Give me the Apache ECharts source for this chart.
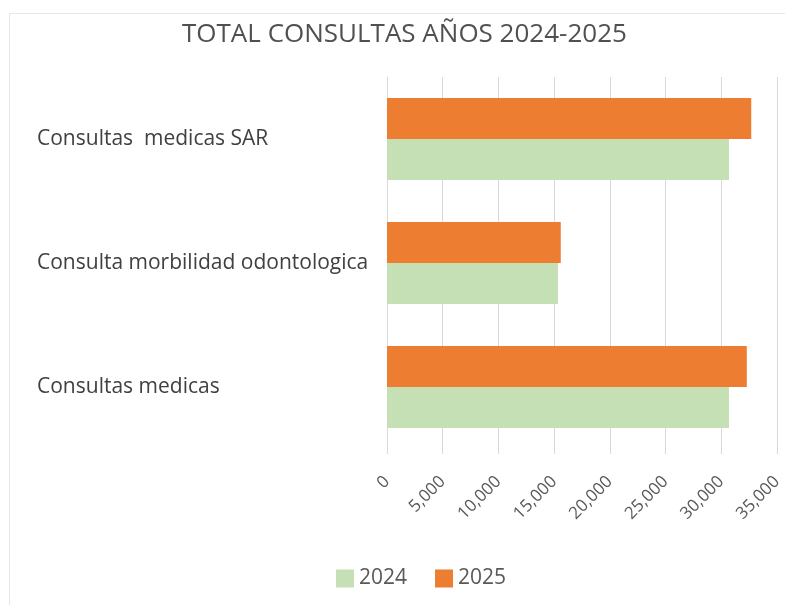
<!DOCTYPE html>
<html>
<head>
<meta charset="utf-8">
<script src="https://cdn.jsdelivr.net/npm/echarts@6/dist/echarts.min.js"></script>
<style>html,body{margin:0;padding:0;background:#fff}#c{width:785px;height:605px}</style>
</head>
<body>
<div id="c"></div>
<script>
var categories = ["Consultas medicas", "Consulta morbilidad odontologica", "Consultas  medicas SAR"];
var seriesNames = ["2024", "2025"];
var values2024 = [30700, 15350, 30700];
var values2025 = [32300, 15600, 32700];
var titleText = "TOTAL CONSULTAS AÑOS 2024-2025";

var FONT = "Open Sans";
var chart = echarts.init(document.getElementById('c'));
chart.setOption({
  backgroundColor: '#fff',
  animation: false,
  graphic: [{
    type: 'rect', shape: {x: 9.5, y: 13.5, width: 800, height: 620},
    style: {fill: 'none', stroke: '#e6e6e6', lineWidth: 1}, silent: true, z: -1
  }],
  title: {
    text: titleText, left: 177, top: 17,
    textStyle: {fontFamily: FONT, fontSize: 26, fontWeight: 'normal', color: '#505050'}
  },
  legend: {
    data: seriesNames, top: 563, left: 331, itemWidth: 18, itemHeight: 18, itemGap: 28,
    icon: 'rect',
    textStyle: {fontFamily: FONT, fontSize: 21, color: '#595959'}
  },
  grid: {left: 387, right: 8, top: 77, bottom: 156},
  xAxis: {
    type: 'value', min: 0, max: 35000, interval: 5000,
    axisLine: {show: false},
    axisTick: {show: true, length: 5, lineStyle: {color: '#d9d9d9'}},
    splitLine: {lineStyle: {color: '#d9d9d9'}},
    axisLabel: {
      rotate: 45, margin: 30, fontFamily: FONT, fontSize: 17, color: '#595959',
      formatter: function (v) { return v === 0 ? '0' : v.toLocaleString('en-US'); }
    }
  },
  yAxis: {
    type: 'category', data: categories,
    axisLine: {lineStyle: {color: '#d9d9d9'}},
    axisTick: {show: false},
    axisLabel: {align: 'left', margin: 350, fontFamily: FONT, fontSize: 21, color: '#404040'}
  },
  series: [
    {name: seriesNames[1], type: 'bar', data: values2025, itemStyle: {color: '#ED7D31'}, barGap: '0%', barCategoryGap: '34%'},
    {name: seriesNames[0], type: 'bar', data: values2024, itemStyle: {color: '#C5E0B4'}, barGap: '0%', barCategoryGap: '34%'}
  ]
});
</script>
</body>
</html>
